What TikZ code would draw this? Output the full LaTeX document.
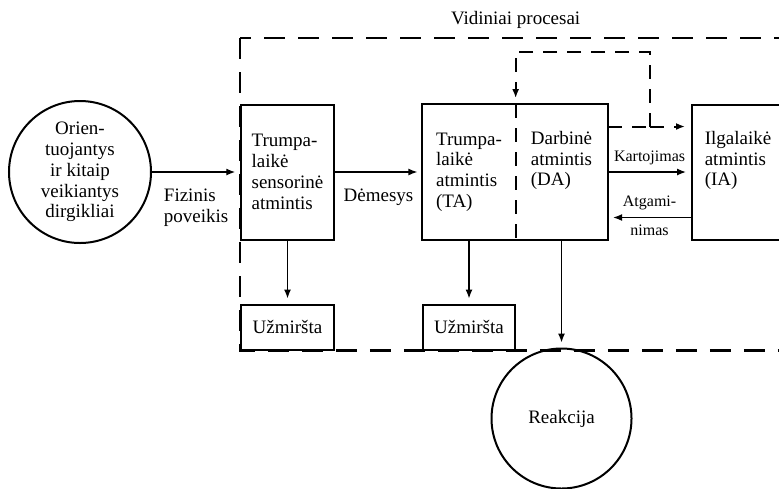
\documentclass[tikz,border=0pt]{standalone}
\usepackage{fontspec}
\setmainfont{Liberation Serif}
\usetikzlibrary{arrows.meta}
\tikzset{
    memory/.style={
           rectangle,
           draw=black, line width=1pt,
           minimum width=46.25pt,
           minimum height=67.5pt,
           inner sep=2pt,
           align=left,
           },
    halfmemory/.style={
           rectangle,
           minimum width=46.25pt,
           minimum height=67.5pt,
           inner sep=2pt,
           align=left,
           },
    blob/.style={
           circle,
           draw=black, line width=1pt,
           inner sep=0pt,
           align=center,
           },
    lost/.style={
           rectangle,
           draw=black, line width=1pt,
           minimum height=22.5pt,
           inner sep=2pt,
           },
    link/.style={line width=0.65pt, shorten >=2.5pt},
    feedback/.style={line width=1pt, dash pattern=on 7pt off 5pt, shorten >=3pt},
    procbox/.style={line width=1.1pt, dash pattern=on 10.5pt off 6.5pt},
    smalllabel/.style={font=\fontsize{8}{9}\selectfont},
}

\begin{document}
\begin{tikzpicture}[>={Latex[length=4.5pt,width=3.5pt]},
    font=\fontsize{9.5}{10.4}\selectfont]
    \useasboundingbox (-40pt,-158pt) rectangle (349.5pt,86pt);
    \clip (-40pt,-158pt) rectangle (349.5pt,86pt);

    % Stimuli: circle on the left
    \node[blob,        	% layout (defined above)
    minimum size=71pt,
    anchor=center] (stim)
    {Orien-\\tuojantys\\ir kitaip\\veikiantys\\dirgikliai};

    % Memory stores
    \node[memory,
    right of=stim,
    node distance=103.75pt,
    anchor=center] (sensory)
    {Trumpa-\\laikė\\sensorinė\\atmintis};

    \node[halfmemory,
    right of=sensory,
    node distance=90.75pt,
    anchor=center] (ta)
    {Trumpa-\\laikė\\atmintis\\(TA)};

    \node[halfmemory,
    right of=ta,
    node distance=46.25pt,
    anchor=center] (da)
    {Darbinė\\atmintis\\(DA)\\\strut};

    \node[memory,
    minimum width=46pt,
    right of=da,
    node distance=88.25pt,
    anchor=center] (ia)
    {Ilgalaikė\\atmintis\\(IA)\\\strut};

    % one box round TA and DA, split by a dashed line
    \draw[line width=1pt] (ta.north west) rectangle (da.south east);

    % Forgotten and reaction
    \node[lost,
    minimum width=46.5pt,
    below of=sensory,
    node distance=77.5pt,
    anchor=center] (forget1)
    {Užmiršta};

    \node[lost,
    minimum width=46pt,
    below of=ta,
    node distance=77.5pt,
    anchor=center] (forget2)
    {Užmiršta};

    \node[blob,
    minimum size=70pt,
    below of=da,
    node distance=123.25pt,
    anchor=center] (react)
    {Reakcija};

    % dashed frame of the inner processes
    \coordinate (framene) at (360pt,67pt);
    \draw[procbox] (sensory.west |- framene) rectangle (framene |- forget1.south);
    \node[above=1pt] (title) at (ta.east |- framene) {Vidiniai procesai};

    % the paths and their text
    \path
        (stim) edge[link, ->]
            node[below=5pt, align=left] {Fizinis\\poveikis}
        (sensory)

        (sensory) edge[link, ->]
            node[below=5pt] {Dėmesys}
        (ta)

        (da) edge[link, ->]
            node[above, smalllabel] {Kartojimas}
        (ia)

        (sensory) edge[link, ->] (forget1)
        (ta) edge[link, ->] (forget2)
        (da) edge[link, ->] (react)
        ;

    \draw[link, ->] ([yshift=-22.75pt]ia.west) --
        node[above, smalllabel] {Atgami-}
        node[below, smalllabel] {nimas}
        ([yshift=-22.75pt]da.east);

    % dashed loop over the working memory
    \coordinate (split) at ([xshift=21pt,yshift=22.75pt]da.east);
    \draw[feedback, shorten >=0pt] (da.east |- split) -- (split);
    \draw[feedback, ->] (split) -- (split -| ia.west);
    \draw[feedback, ->] (split) -- ++(0,37.5pt) -| (ta.north east);
    \draw[feedback, shorten >=0pt] (ta.north east) -- (ta.south east);
\end{tikzpicture}
\end{document}
